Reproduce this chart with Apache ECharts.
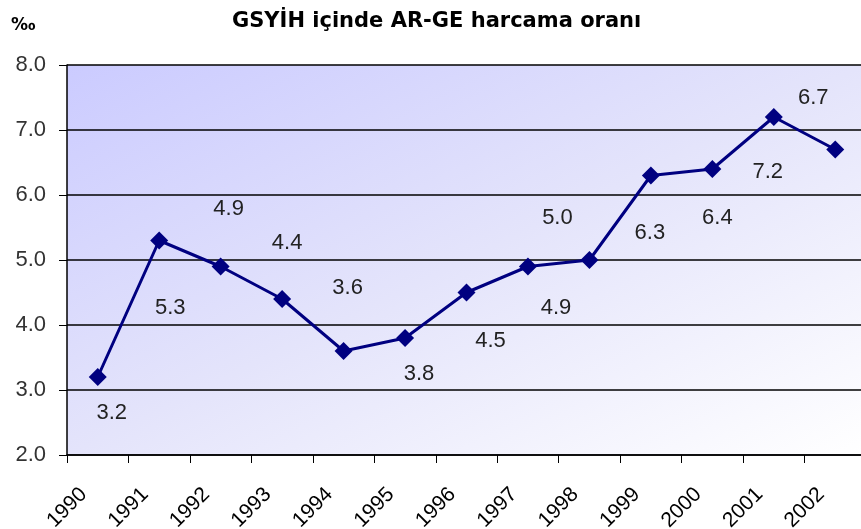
<!DOCTYPE html>
<html>
<head>
<meta charset="utf-8">
<script src="https://cdn.jsdelivr.net/npm/echarts@6/dist/echarts.min.js"></script>
<style>
  html, body { margin: 0; padding: 0; background: #fff; }
  #chart { width: 861px; height: 529px; }
</style>
</head>
<body>
<div id="chart"></div>
<script>
// data
var years = ['1990','1991','1992','1993','1994','1995','1996','1997','1998','1999','2000','2001','2002'];
var ratio = [3.2, 5.3, 4.9, 4.4, 3.6, 3.8, 4.5, 4.9, 5.0, 6.3, 6.4, 7.2, 6.7];
var yTicks = [2, 3, 4, 5, 6, 7, 8];

// where each value label sits relative to its point (px)
var labelShift = [
  [14, 36], [11, 67], [8, -58], [5, -56], [4, -63], [14, 36], [24, 48],
  [28, 41], [-32, -42], [-1, 57], [5, 49], [-6, 55], [-22, -52]
];

var myChart = echarts.init(document.getElementById('chart'));

var pts = ratio.map(function (v, i) {
  return {
    value: v,
    label: { offset: labelShift[i] }
  };
});

var option = {
  backgroundColor: '#fff',
  animation: false,
  title: {
    text: 'GSYİH içinde AR-GE harcama oranı',
    left: 227,
    top: 6,
    textStyle: { fontFamily: 'DejaVu Sans', fontWeight: 'bold', fontSize: 21, color: '#000' }
  },
  graphic: [{
    type: 'text',
    left: 11,
    top: 17,
    style: { text: '‰', fontFamily: 'DejaVu Sans', fontWeight: 'bold', fontSize: 17, fill: '#000' }
  }],
  grid: {
    left: 67, right: -5, top: 65, bottom: 74,
    outerBoundsMode: 'none',
    containLabel: false,
    show: true,
    borderWidth: 0,
    // diagonal shading: bottom-left and top-right share the middle tone
    backgroundColor: new echarts.graphic.LinearGradient(0, 0, 0.386, 1.614, [
      { offset: 0, color: '#cbcbff' },
      { offset: 0.5, color: '#e4e4fb' },
      { offset: 1, color: '#ffffff' }
    ])
  },
  xAxis: {
    type: 'category',
    data: years,
    boundaryGap: true,
    axisLine: { lineStyle: { color: '#000', width: 1.5 } },
    axisTick: { show: true, length: 8, lineStyle: { color: '#000' } },
    axisLabel: {
      rotate: 45,
      margin: 22,
      padding: [0, 20, 0, 0],
      fontFamily: 'Liberation Sans',
      fontSize: 21,
      color: '#000'
    }
  },
  yAxis: {
    type: 'value',
    min: yTicks[0],
    max: yTicks[yTicks.length - 1],
    interval: 1,
    axisLine: { show: true, lineStyle: { color: '#000', width: 1.5 } },
    axisTick: { show: true, length: 8, lineStyle: { color: '#000' } },
    axisLabel: {
      margin: 21,
      fontFamily: 'Liberation Sans',
      fontSize: 22,
      color: '#333',
      formatter: function (v) { return v.toFixed(1); }
    },
    splitLine: { lineStyle: { color: '#000', width: 1.5 } }
  },
  series: [{
    type: 'line',
    data: pts,
    symbol: 'diamond',
    symbolSize: 18,
    itemStyle: { color: '#000080' },
    lineStyle: { color: '#000080', width: 3 },
    label: {
      show: true,
      position: 'inside',
      fontFamily: 'Liberation Sans',
      fontSize: 22,
      color: '#222',
      formatter: function (p) { return p.value.toFixed(1); }
    }
  }]
};

myChart.setOption(option, true);
</script>
</body>
</html>
